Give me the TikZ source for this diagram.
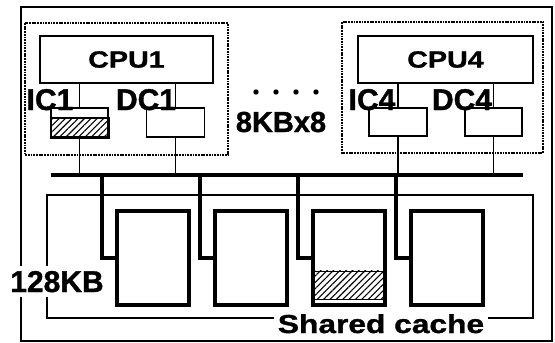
\documentclass[tikz,border=0pt]{standalone}
\usepackage{fontspec}
\setmainfont{Liberation Sans}[BoldFeatures={FakeBold=1.2}]
\newfontfamily\widefont{Liberation Sans}[FakeStretch=1.22, BoldFeatures={FakeBold=1.2}]
\usetikzlibrary{positioning,calc,patterns.meta}

\begin{document}
\begin{tikzpicture}[x=1pt, y=-1pt,
    thinbox/.style={draw, rectangle, line width=1.2pt, inner sep=0pt},
    bank/.style={draw, rectangle, line width=3.8pt, minimum width=72pt, minimum height=94pt, inner sep=0pt},
    procbox/.style={line width=2pt, dash pattern=on 1.8pt off 0.9pt},
    drop/.style={line width=3.8pt},
    wire/.style={line width=1.1pt},
    lbl/.style={anchor=base, inner sep=0pt, font=\fontsize{30}{30}\selectfont\bfseries},
    cpufont/.style={font=\widefont\bfseries\fontsize{23.5}{24}\selectfont},
    hatch/.style={pattern={Lines[angle=45,distance=4.5pt,line width=1.1pt]}}]
    \useasboundingbox (0,0) rectangle (555,343);

    % chip outline and processor groups
    \draw[line width=1.4pt] (21,7) rectangle (552,341);
    \draw[procbox] (25,23) rectangle (228,155);
    \draw[procbox] (342,22) rectangle (543,153);

    % processors and their L1 caches
    \node[thinbox, cpufont, minimum width=173pt, minimum height=47pt] (cpu1) at (126.5,59.5) {CPU1};
    \node[thinbox, cpufont, minimum width=175pt, minimum height=47pt] (cpu4) at (445.5,59.5) {CPU4};
    \node[thinbox, minimum width=57pt, minimum height=29pt] (ic1) at (79.5,122.5) {};
    \node[thinbox, minimum width=58pt, minimum height=29pt] (dc1) at (175.5,122.5) {};
    \node[thinbox, minimum width=58pt, minimum height=28pt] (ic4) at (398,122) {};
    \node[thinbox, minimum width=57pt, minimum height=28pt] (dc4) at (493.5,122) {};
    \draw[hatch, line width=1.8pt] (ic1.south west) rectangle ($(ic1.east)+(0,-4.5)$);

    \node[lbl] (ic1lbl) at (50,110) {IC1};
    \node[lbl] (dc1lbl) at (146,110) {DC1};
    \node[lbl] (ic4lbl) at (372,110) {IC4};
    \node[lbl] (dc4lbl) at (462,110) {DC4};

    % the other processors
    \foreach \x in {256,276,296,316}
        \fill (\x,92) circle (2.7);
    \node[lbl, font=\fontsize{29}{29}\selectfont\bfseries] (l1size) at (281,132) {8KBx8};

    % bus
    \coordinate (busL) at (51,175);
    \coordinate (busR) at (523,175);
    \draw[line width=4.5pt] (busL) -- (busR);

    \foreach \p/\c in {cpu1/ic1,cpu1/dc1,cpu4/ic4,cpu4/dc4} {
        \draw[wire] (\p.south -| \c.north) -- (\c.north);
        \draw[wire] (\c.south) -- (\c.south |- busL);
    }

    % shared cache banks
    \draw[wire] (47,195) rectangle (533,318);
    \foreach \i/\x in {1/153,2/251,3/349,4/447}
        \node[bank] (bank\i) at (\x,258) {};
    \foreach \i in {1,...,4}
        \draw[drop] (bank\i.west) -| ($(bank\i.west |- busL)+(-13,0)$);
    \draw[hatch, line width=0.8pt] ($(bank3.south west)+(2,-8)$) rectangle ($(bank3.south east)+(-2,-36)$);

    \node[lbl, fill=white, inner xsep=1pt, inner ysep=5pt] (l2size) at (57,292) {128KB};
    \node[anchor=base, fill=white, inner xsep=4pt, inner ysep=2pt, font=\widefont\bfseries\fontsize{26}{26}\selectfont] (shared) at (381,333) {Shared cache};
\end{tikzpicture}
\end{document}
